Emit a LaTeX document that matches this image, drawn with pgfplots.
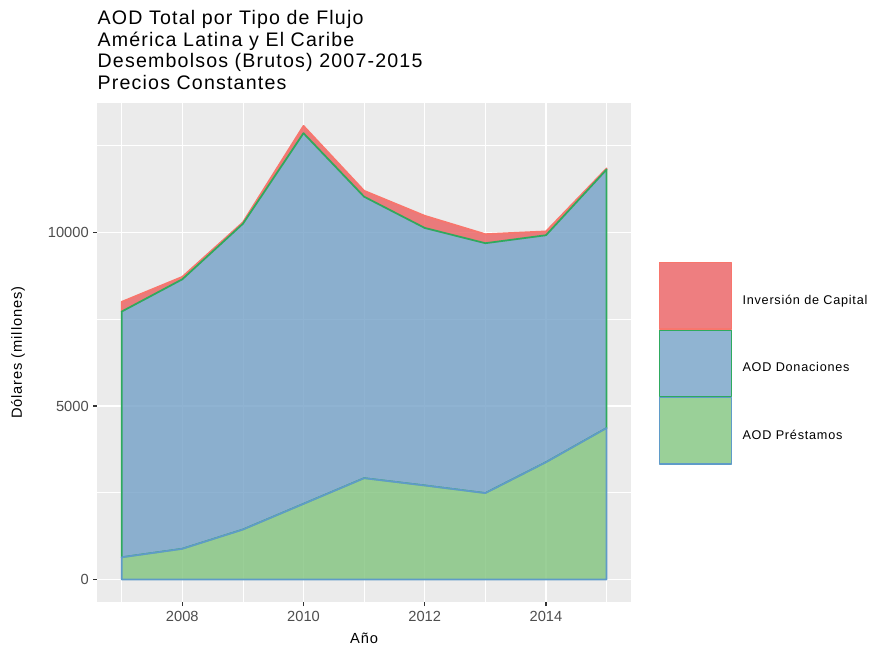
\documentclass[border=0pt]{standalone}
\usepackage{fontspec}
\setmainfont{Liberation Sans}[LetterSpace=6]
\newfontfamily\tickfont{Liberation Sans}
\usepackage{pgfplots}
\pgfplotsset{compat=1.18}

\definecolor{panelbg}{HTML}{EBEBEB}
\definecolor{tickgray}{HTML}{4D4D4D}
\definecolor{invfill}{RGB}{234,94,96}
\definecolor{invline}{HTML}{F8766D}
\definecolor{donfill}{RGB}{116,161,199}
\definecolor{donline}{HTML}{2EAA5E}
\definecolor{prefill}{RGB}{129,196,126}
\definecolor{preline}{HTML}{5F9BC8}

\begin{document}
\begin{tikzpicture}
\useasboundingbox (-73.05pt,-33.6pt) rectangle (580.95pt,451.65pt);
\begin{axis}[
  at={(0,0)}, anchor=south west,
  scale only axis, width=400.1pt, height=374.25pt,
  xmin=2006.6, xmax=2015.4, ymin=-653.5, ymax=13723.5,
  axis background/.style={fill=panelbg},
  axis line style={draw=none},
  xtick={2008,2010,2012,2014}, minor xtick={2007,2009,2011,2013,2015},
  ytick={0,5000,10000}, minor ytick={2500,7500,12500},
  xtick pos=bottom, ytick pos=left, tick align=outside,
  major tick length=3pt, minor tick length=0pt,
  tick style={draw=black!80, line width=0.8pt},
  grid=both,
  major grid style={white, line width=1pt},
  minor grid style={white, line width=0.5pt},
  scaled ticks=false,
  /pgf/number format/1000 sep={},
  /pgf/number format/assume math mode=true,
  ticklabel style={font=\tickfont\fontsize{11}{13}\selectfont, text=tickgray},
  xlabel={Año}, ylabel={Dólares (millones)},
  label style={font=\fontsize{11}{13}\selectfont},
  xlabel style={at={(axis description cs:0.5,-0.0717)}, anchor=center},
  ylabel style={at={(axis description cs:-0.1488,0.5)}, anchor=center},
  title={AOD Total por Tipo de Flujo\\América Latina y El Caribe\\Desembolsos (Brutos) 2007-2015\\Precios Constantes},
  title style={at={(axis description cs:0,1)}, anchor=south west, align=left,
    inner sep=0pt, yshift=3.8pt, font=\fontsize{14.7}{16.3}\selectfont},
  legend style={at={(axis description cs:1.0514,0.6824)}, anchor=north west,
    draw=none, fill=none, inner sep=0pt, row sep=0pt, column sep=7.7pt,
    font=\fontsize{9.5}{11}\selectfont, nodes={inner sep=0pt}},
  legend cell align=left,
  legend image code/.code={\draw[#1, line width=1pt] (0pt,-21.4pt) rectangle (54.3pt,28.3pt);},
]
% Inversion de Capital: band between donaciones top and total
\addplot[fill=invfill, fill opacity=0.8, draw=invline, line width=1.3pt, line join=round]
  coordinates {(2007,8000) (2008,8720) (2009,10290) (2010,13070) (2011,11200)
               (2012,10480) (2013,9950) (2014,10030) (2015,11845)
               (2015,11815) (2014,9920) (2013,9690) (2012,10130) (2011,11030)
               (2010,12860) (2009,10250) (2008,8650) (2007,7720)} -- cycle;
\addlegendentry{Inversión de Capital}
% AOD Donaciones: band between prestamos top and donaciones top
\addplot[fill=donfill, fill opacity=0.8, draw=donline, line width=1.3pt, line join=round]
  coordinates {(2007,7720) (2008,8650) (2009,10250) (2010,12860) (2011,11030)
               (2012,10130) (2013,9690) (2014,9920) (2015,11815)
               (2015,4365) (2014,3380) (2013,2490) (2012,2710) (2011,2920)
               (2010,2180) (2009,1440) (2008,885) (2007,640)} -- cycle;
\addlegendentry{AOD Donaciones}
% AOD Prestamos: band down to zero
\addplot[fill=prefill, fill opacity=0.8, draw=preline, line width=1.3pt, line join=round]
  coordinates {(2007,640) (2008,885) (2009,1440) (2010,2180) (2011,2920)
               (2012,2710) (2013,2490) (2014,3380) (2015,4365)
               (2015,0) (2007,0)} -- cycle;
\addlegendentry{AOD Préstamos}
\end{axis}
\end{tikzpicture}
\end{document}
